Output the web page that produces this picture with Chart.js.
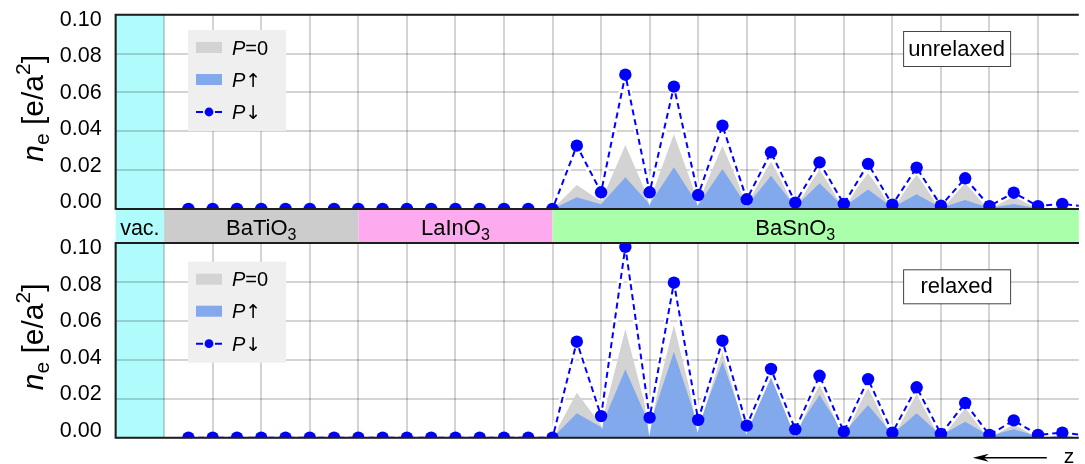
<!DOCTYPE html>
<html>
<head>
<meta charset="utf-8">
<script src="https://cdn.jsdelivr.net/npm/chart.js@4/dist/chart.umd.min.js"></script>
<style>
  html, body { margin: 0; padding: 0; background: #ffffff; }
  #wrap { position: relative; width: 1085px; height: 464px; overflow: hidden; }
  canvas { position: absolute; left: 0; }
  #topPanel { top: 0; }
  #bottomPanel { top: 225px; }
</style>
</head>
<body>
<div id="wrap">
  <canvas id="topPanel" width="1085" height="245"></canvas>
  <canvas id="bottomPanel" width="1085" height="239"></canvas>
</div>
<script>
// Layer positions along z (one unit = one perovskite unit cell)
const zPos = [1.5, 2, 2.5, 3, 3.5, 4, 4.5, 5, 5.5, 6, 6.5, 7, 7.5, 8, 8.5, 9,
              9.5, 10, 10.5, 11, 11.5, 12, 12.5, 13, 13.5, 14, 14.5, 15, 15.5, 16,
              16.5, 17, 17.5, 18, 18.5, 19, 19.5, 20];

// Electron density n_e [e/a^2], unrelaxed structure
const unrelaxedZero = [0, 0, 0, 0, 0, 0, 0, 0, 0, 0, 0, 0, 0, 0, 0, 0,
  0.0124, 0.0040, 0.0329, 0.0040, 0.0386, 0.0035, 0.0325, 0.0030, 0.0243, 0.0025, 0.0201,
  0.0020, 0.0184, 0.0015, 0.0175, 0.0010, 0.0132, 0.0010, 0.0063, 0.0008, 0.0020, 0.0010];
const unrelaxedUp = [0, 0, 0, 0, 0, 0, 0, 0, 0, 0, 0, 0, 0, 0, 0, 0,
  0.0060, 0.0025, 0.0163, 0.0025, 0.0215, 0.0020, 0.0206, 0.0015, 0.0171, 0.0012, 0.0132,
  0.0010, 0.0101, 0.0008, 0.0076, 0.0006, 0.0046, 0.0005, 0.0026, 0.0003, 0.0010, 0.0005];
const unrelaxedDown = [0, 0, 0, 0, 0, 0, 0, 0, 0, 0, 0, 0, 0, 0, 0, 0,
  0.0326, 0.0086, 0.0691, 0.0086, 0.0630, 0.0072, 0.0429, 0.0050, 0.0292, 0.0033, 0.0240,
  0.0026, 0.0232, 0.0022, 0.0213, 0.0017, 0.0158, 0.0015, 0.0084, 0.0015, 0.0026, 0.0012];

// Electron density n_e [e/a^2], relaxed structure
const relaxedZero = [0, 0, 0, 0, 0, 0, 0, 0, 0, 0, 0, 0, 0, 0, 0, 0,
  0.0231, 0.0065, 0.0558, 0.0075, 0.0579, 0.0070, 0.0442, 0.0050, 0.0322, 0.0035, 0.0271,
  0.0030, 0.0254, 0.0022, 0.0224, 0.0017, 0.0151, 0.0012, 0.0065, 0.0010, 0.0020, 0.0010];
const relaxedUp = [0, 0, 0, 0, 0, 0, 0, 0, 0, 0, 0, 0, 0, 0, 0, 0,
  0.0125, 0.0055, 0.0351, 0.0065, 0.0442, 0.0060, 0.0390, 0.0040, 0.0305, 0.0030, 0.0219,
  0.0025, 0.0168, 0.0018, 0.0125, 0.0013, 0.0082, 0.0010, 0.0043, 0.0008, 0.0010, 0.0005];
const relaxedDown = [0, 0, 0, 0, 0, 0, 0, 0, 0, 0, 0, 0, 0, 0, 0, 0,
  0.0493, 0.0111, 0.0980, 0.0103, 0.0796, 0.0091, 0.0498, 0.0062, 0.0353, 0.0043, 0.0318,
  0.0031, 0.0301, 0.0026, 0.0259, 0.0019, 0.0178, 0.0014, 0.0089, 0.0014, 0.0026, 0.0012];

// Slab layers along z
const layerNames = ['vac.', 'BaTiO', 'LaInO', 'BaSnO'];
const layerSubscripts = ['', '3', '3', '3'];
const layerFrom = [0, 1, 5, 9];
const layerTo = [1, 5, 9, 19];
const layerColors = ['#b0fcfc', '#cccccc', '#fdabee', '#aaffaa'];

// Axis ranges and tick labels
const zMin = 0, zMax = 19.84;
const yTicks = [0, 0.02, 0.04, 0.06, 0.08, 0.10];

const FONT = "'Liberation Sans', Arial, sans-serif";
const ARROW_FONT = "'DejaVu Sans', sans-serif";
const gridColor = 'rgba(0,0,0,0.17)';
const zeroColor = '#d3d3d3';
const upColor = '#82a9ec';
const downColor = '#0000ff';
const frameColor = '#1e1e1e';

Chart.defaults.font.family = FONT;

function pairs(vals) {
  return zPos.map((z, i) => ({ x: z, y: vals[i] }));
}

// Text made of pieces with their own font and baseline shift
function richWidth(ctx, parts) {
  let w = 0;
  for (const p of parts) { ctx.font = p.font; w += ctx.measureText(p.t).width; }
  return w;
}
function drawRich(ctx, parts, x, y) {
  let cx = x;
  for (const p of parts) {
    ctx.font = p.font;
    ctx.fillText(p.t, cx, y + (p.dy || 0));
    cx += ctx.measureText(p.t).width;
  }
}

const panelDecor = {
  id: 'panelDecor',
  beforeDraw(chart) {
    const { ctx, chartArea: a, scales: { x } } = chart;
    // vacuum region inside the panel (grid lines go on top of it)
    const x0 = x.getPixelForValue(layerFrom[0]);
    const x1 = x.getPixelForValue(layerTo[0]);
    ctx.save();
    ctx.fillStyle = layerColors[0];
    ctx.fillRect(x0, a.top, x1 - x0, a.bottom - a.top);
    ctx.restore();
  },
  afterDraw(chart, args, o) {
    const { ctx, chartArea: a, scales: { x } } = chart;
    ctx.save();
    ctx.textAlign = 'left';
    ctx.textBaseline = 'alphabetic';

    // panel frame: left, top, bottom
    ctx.strokeStyle = frameColor;
    ctx.lineWidth = 2;
    ctx.beginPath();
    ctx.moveTo(a.right, a.top); ctx.lineTo(a.left, a.top);
    ctx.lineTo(a.left, a.bottom); ctx.lineTo(a.right, a.bottom);
    ctx.stroke();

    // layer band under the upper panel
    if (o.band) {
      const by0 = a.bottom, by1 = a.bottom + 34;
      for (let i = 0; i < layerNames.length; i++) {
        const l = x.getPixelForValue(layerFrom[i]);
        const r = i === layerNames.length - 1 ? a.right : x.getPixelForValue(layerTo[i]);
        ctx.fillStyle = layerColors[i];
        ctx.fillRect(l, by0, r - l, by1 - by0);
      }
      ctx.fillStyle = '#000';
      for (let i = 0; i < layerNames.length; i++) {
        const cxv = x.getPixelForValue((layerFrom[i] + layerTo[i]) / 2);
        const parts = layerSubscripts[i]
          ? [{ t: layerNames[i], font: '22px ' + FONT }, { t: layerSubscripts[i], font: '16px ' + FONT, dy: 5 }]
          : [{ t: layerNames[i], font: '21.5px ' + FONT }];
        const w = richWidth(ctx, parts);
        drawRich(ctx, parts, cxv - w / 2, by0 + 26);
      }
      ctx.strokeStyle = frameColor;
      ctx.lineWidth = 2;
      ctx.beginPath();
      ctx.moveTo(a.left, by0); ctx.lineTo(a.right, by0);
      ctx.moveTo(a.left, by1); ctx.lineTo(a.right, by1);
      ctx.stroke();
    }

    // legend
    const lx = a.left + o.legendDx, ly = a.top + o.legendDy;
    ctx.fillStyle = '#efefef';
    ctx.fillRect(lx, ly, 98, 101);
    const rows = [ly + 17.5, ly + 49.5, ly + 82];
    ctx.fillStyle = zeroColor;
    ctx.fillRect(lx + 8, rows[0] - 5.5, 26, 11);
    ctx.fillStyle = upColor;
    ctx.fillRect(lx + 8, rows[1] - 5.5, 26, 11);
    ctx.strokeStyle = downColor;
    ctx.lineWidth = 2;
    ctx.beginPath();
    ctx.moveTo(lx + 8, rows[2]); ctx.lineTo(lx + 15, rows[2]);
    ctx.moveTo(lx + 27, rows[2]); ctx.lineTo(lx + 34, rows[2]);
    ctx.stroke();
    ctx.fillStyle = downColor;
    ctx.beginPath();
    ctx.arc(lx + 21, rows[2], 4.4, 0, Math.PI * 2);
    ctx.fill();
    ctx.fillStyle = '#000';
    const lf = '20px ' + FONT, lfi = 'italic 20px ' + FONT, af = '19px ' + ARROW_FONT;
    drawRich(ctx, [{ t: 'P', font: lfi }, { t: '=0', font: lf }], lx + 44, rows[0] + 7);
    drawRich(ctx, [{ t: 'P', font: lfi }, { t: '\u2191', font: af }], lx + 44, rows[1] + 7);
    drawRich(ctx, [{ t: 'P', font: lfi }, { t: '\u2193', font: af }], lx + 44, rows[2] + 7);

    // structure label box
    const bx = a.right - 175.7, bw = 107;
    const bTop = a.top + o.boxDy, bh = o.boxH;
    ctx.fillStyle = '#ffffff';
    ctx.fillRect(bx, bTop, bw, bh);
    ctx.strokeStyle = '#444';
    ctx.lineWidth = 1;
    ctx.strokeRect(bx + 0.5, bTop + 0.5, bw, bh);
    ctx.fillStyle = '#000';
    ctx.font = '22px ' + FONT;
    ctx.textAlign = 'center';
    ctx.fillText(o.boxText, bx + bw / 2, bTop + bh / 2 + 7);
    ctx.textAlign = 'left';

    // y axis title: n_e [e/a^2]
    const cy = (a.top + a.bottom) / 2 - 3.5;
    const tparts = [
      { t: 'n', font: 'italic 30px ' + FONT },
      { t: 'e', font: '21px ' + FONT, dy: 6 },
      { t: ' [e/a', font: '30px ' + FONT },
      { t: '2', font: '21px ' + FONT, dy: -13 },
      { t: ']', font: '30px ' + FONT }
    ];
    ctx.save();
    ctx.translate(43, cy);
    ctx.rotate(-Math.PI / 2);
    const tw = richWidth(ctx, tparts);
    drawRich(ctx, tparts, -tw / 2, 0);
    ctx.restore();

    // direction of z under the lower panel
    if (o.arrow) {
      const ay = a.bottom + 20;
      const tip = a.right - 106, tail = a.right - 32;
      ctx.strokeStyle = '#000';
      ctx.lineWidth = 1.5;
      ctx.beginPath();
      ctx.moveTo(tail, ay); ctx.lineTo(tip + 8, ay);
      ctx.stroke();
      ctx.fillStyle = '#000';
      ctx.beginPath();
      ctx.moveTo(tip, ay);
      ctx.lineTo(tip + 16, ay - 4);
      ctx.lineTo(tip + 11, ay);
      ctx.lineTo(tip + 16, ay + 4);
      ctx.closePath();
      ctx.fill();
      ctx.font = '21px ' + FONT;
      ctx.fillText('z', a.right - 15, ay + 5.5);
    }
    ctx.restore();
  }
};

function makePanel(id, zero, up, down, deco) {
  return new Chart(document.getElementById(id), {
    type: 'line',
    data: {
      datasets: [
        { label: 'P\u2193', data: pairs(down), order: 0, borderColor: downColor, borderWidth: 2,
          borderDash: [6, 4], pointRadius: 6.2, pointHoverRadius: 6.2, pointBackgroundColor: downColor,
          pointBorderWidth: 0, fill: false, tension: 0 },
        { label: 'halo', data: pairs(down), order: 1, borderColor: '#ffffff', borderWidth: 6,
          pointRadius: 0, fill: false, tension: 0 },
        { label: 'P\u2191', data: pairs(up), order: 2, borderColor: 'transparent', borderWidth: 0,
          backgroundColor: upColor, pointRadius: 0, fill: 'origin', tension: 0 },
        { label: 'P=0', data: pairs(zero), order: 3, borderColor: 'transparent', borderWidth: 0,
          backgroundColor: zeroColor, pointRadius: 0, fill: 'origin', tension: 0 }
      ]
    },
    options: {
      responsive: false,
      animation: false,
      events: [],
      layout: { padding: { left: 0, right: 0, top: deco.padTop, bottom: deco.padBottom } },
      plugins: { legend: { display: false }, tooltip: { enabled: false }, panelDecor: deco },
      scales: {
        x: {
          type: 'linear', min: zMin, max: zMax,
          afterFit: s => { s.height = 0; s.paddingLeft = 0; s.paddingRight = 0; },
          ticks: { display: false, stepSize: 1, includeBounds: false },
          grid: { color: gridColor, lineWidth: 2, drawTicks: false },
          border: { display: false }
        },
        y: {
          position: 'left', min: 0, max: 0.1,
          afterFit: s => { s.width = 0; s.paddingTop = 0; s.paddingBottom = 0; },
          ticks: { display: false, stepSize: 0.02 },
          grid: { color: gridColor, lineWidth: 2, drawTicks: false },
          border: { display: false }
        },
        yl: {
          position: 'left', min: -0.0037, max: 0.1028,
          afterBuildTicks: s => { s.ticks = yTicks.map(v => ({ value: v })); },
          afterFit: s => { s.width = 115.6; s.paddingTop = 0; s.paddingBottom = 0; },
          ticks: { padding: 14, color: '#000', font: { size: 21.5, family: FONT },
                   callback: v => v.toFixed(2) },
          grid: { display: false, drawTicks: false },
          border: { display: false }
        }
      }
    },
    plugins: [panelDecor]
  });
}

makePanel('topPanel', unrelaxedZero, unrelaxedUp, unrelaxedDown, {
  padTop: 14.7, padBottom: 36, band: true, arrow: false,
  legendDx: 72.4, legendDy: 15.3, boxDy: 16.3, boxH: 35, boxText: 'unrelaxed'
});
makePanel('bottomPanel', relaxedZero, relaxedUp, relaxedDown, {
  padTop: 18, padBottom: 26.3, band: false, arrow: true,
  legendDx: 72.4, legendDy: 18.7, boxDy: 26.3, boxH: 34, boxText: 'relaxed'
});
</script>
</body>
</html>
